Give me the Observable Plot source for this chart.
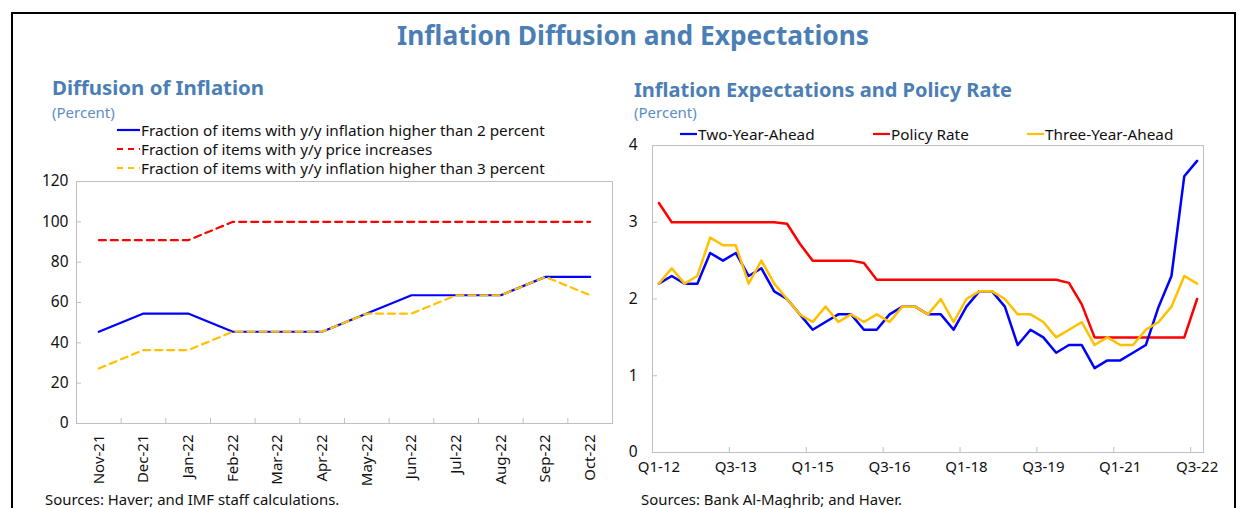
<!DOCTYPE html>
<html><head><meta charset="utf-8">
<script src="https://cdn.jsdelivr.net/npm/d3@7"></script>
<script src="https://cdn.jsdelivr.net/npm/@observablehq/plot@0.6"></script>
<style>
body{margin:0;background:#fff;font-family:"Noto Sans",sans-serif;}
#wrap{position:relative;width:1238px;height:508px;overflow:hidden;background:#fff;}
.abs{position:absolute;white-space:nowrap;}
.t1{color:#4A7EB4;font-weight:700;}
.pct{color:#5B8DC8;font-size:15px;}
.leg{font-size:15.3px;color:#111;display:flex;align-items:center;}
.leg svg{margin-right:1px;}
.src{font-size:14.9px;color:#111;}
</style></head>
<body><div id="wrap">
<div class="abs" style="left:11px;top:12px;right:2px;height:520px;border:2.5px solid #000;border-bottom:none;"></div>
<div class="abs t1" style="left:0;width:1266px;text-align:center;top:17px;font-size:26.3px;">Inflation Diffusion and Expectations</div>
<div class="abs t1" style="left:52px;top:73px;font-size:20.4px;">Diffusion of Inflation</div>
<div class="abs pct" style="left:52px;top:102px;">(Percent)</div>
<div class="abs t1" style="left:634px;top:76px;font-size:20px;">Inflation Expectations and Policy Rate</div>
<div class="abs pct" style="left:634px;top:102px;">(Percent)</div>
<div id="legL"></div><div id="legR"></div>
<div id="chartL" class="abs" style="left:0;top:170px;"></div>
<div id="chartR" class="abs" style="left:600px;top:130px;"></div>
<div class="abs src" style="left:45px;top:489px;">Sources: Haver; and IMF staff calculations.</div>
<div class="abs src" style="left:641px;top:489px;">Sources: Bank Al-Maghrib; and Haver.</div>
</div>
<script>
// ---- Left chart data ----
const months = ["Nov-21","Dec-21","Jan-22","Feb-22","Mar-22","Apr-22","May-22","Jun-22","Jul-22","Aug-22","Sep-22","Oct-22"];
const above2 = [45.5, 54.5, 54.5, 45.5, 45.5, 45.5, 54.5, 63.6, 63.6, 63.6, 72.7, 72.7];
const priceIncreases = [90.9, 90.9, 90.9, 100, 100, 100, 100, 100, 100, 100, 100, 100];
const above3 = [27.3, 36.4, 36.4, 45.5, 45.5, 45.5, 54.5, 54.5, 63.6, 63.6, 72.7, 63.6];
const leftYTicks = [0, 20, 40, 60, 80, 100, 120];
const leftNames = ["Fraction of items with y/y inflation higher than 2 percent","Fraction of items with y/y price increases","Fraction of items with y/y inflation higher than 3 percent"];

// ---- Right chart data ----
const quarters = ["Q1-12","Q2-12","Q3-12","Q4-12","Q1-13","Q2-13","Q3-13","Q4-13","Q1-14","Q2-14","Q3-14","Q4-14",
"Q1-15","Q2-15","Q3-15","Q4-15","Q1-16","Q2-16","Q3-16","Q4-16","Q1-17","Q2-17","Q3-17","Q4-17",
"Q1-18","Q2-18","Q3-18","Q4-18","Q1-19","Q2-19","Q3-19","Q4-19","Q1-20","Q2-20","Q3-20","Q4-20",
"Q1-21","Q2-21","Q3-21","Q4-21","Q1-22","Q2-22","Q3-22"];
const twoYearAhead = [2.2,2.3,2.2,2.2,2.6,2.5,2.6,2.3,2.4,2.1, 2.0,1.8,1.6,1.7,1.8,1.8,1.6,1.6,1.8,1.9, 1.9,1.8,1.8,1.6,1.9,2.1,2.1,1.9,1.4,1.6, 1.5,1.3,1.4,1.4,1.1,1.2,1.2,1.3,1.4,1.9, 2.3,3.6,3.8];
const policyRate = [3.25,3,3,3,3,3,3,3,3,3, 2.98,2.72,2.5,2.5,2.5,2.5,2.47,2.25,2.25,2.25, 2.25,2.25,2.25,2.25,2.25,2.25,2.25,2.25,2.25,2.25, 2.25,2.25,2.21,1.93,1.5,1.5,1.5,1.5,1.5,1.5, 1.5,1.5,2.0];
const threeYearAhead = [2.2,2.4,2.2,2.3,2.8,2.7,2.7,2.2,2.5,2.2, 2.0,1.8,1.7,1.9,1.7,1.8,1.7,1.8,1.7,1.9, 1.9,1.8,2.0,1.7,2.0,2.1,2.1,2.0,1.8,1.8, 1.7,1.5,1.6,1.7,1.4,1.5,1.4,1.4,1.6,1.7, 1.9,2.3,2.2];
const rightYTicks = [0, 1, 2, 3, 4];
const rightLabelEvery = 6;
const rightNames = ["Two-Year-Ahead","Policy Rate","Three-Year-Ahead"];

const BLUE = "#0000FF", RED = "#FF0000", YEL = "#FFC000", GRID = "#BFBFBF";

// ---- Left chart ----
const lw = 630, lh = 330, lm = {l:76, r:18, t:11, b:77};
const lRows = months.map((m, i) => ({i, m, above2: above2[i], inc: priceIncreases[i], above3: above3[i]}));
const chartL = Plot.plot({
  width: lw, height: lh, marginLeft: lm.l, marginRight: lm.r, marginTop: lm.t, marginBottom: lm.b,
  style: {fontFamily: "Noto Sans", fontSize: "15px", color: "#111", background: "transparent"},
  x: {domain: [-0.5, months.length - 0.5]},
  y: {domain: [0, 120]},
  marks: [
    Plot.frame({stroke: GRID}),
    Plot.ruleX(d3.range(0.5, months.length - 1, 1), {stroke: GRID, insetTop: lh - lm.t - lm.b - 5}),
    Plot.ruleY(leftYTicks, {stroke: GRID, insetRight: lw - lm.l - lm.r - 5}),
    Plot.axisY({ticks: leftYTicks, tickFormat: d => String(d), tickSize: 0, tickPadding: 8, fontSize: 15.5, label: null}),
    Plot.axisX({ticks: d3.range(months.length), tickFormat: i => months[i], tickSize: 0, tickPadding: 11, tickRotate: -90, label: null, fontSize: 15}),
    Plot.line(lRows, {x: "i", y: "above2", stroke: BLUE, strokeWidth: 2.2}),
    Plot.line(lRows, {x: "i", y: "inc", stroke: RED, strokeWidth: 2.2, strokeDasharray: "7,5"}),
    Plot.line(lRows, {x: "i", y: "above3", stroke: YEL, strokeWidth: 2.2, strokeDasharray: "7,5"})
  ]
});
document.getElementById("chartL").append(chartL);

// ---- Right chart ----
const rw = 630, rh = 350, rm = {l:52, r:27, t:15, b:28};
const rRows = quarters.map((q, i) => ({i, q, two: twoYearAhead[i], pol: policyRate[i], three: threeYearAhead[i]}));
const labelIdx = d3.range(0, quarters.length, rightLabelEvery);
const chartR = Plot.plot({
  width: rw, height: rh, marginLeft: rm.l, marginRight: rm.r, marginTop: rm.t, marginBottom: rm.b,
  style: {fontFamily: "Noto Sans", fontSize: "15px", color: "#111", background: "transparent"},
  x: {domain: [-0.5, quarters.length - 0.5]},
  y: {domain: [0, 4]},
  marks: [
    Plot.frame({stroke: GRID}),
    Plot.ruleX(labelIdx.slice(1).map(i => i - 0.5), {stroke: GRID, insetTop: rh - rm.t - rm.b - 5}),
    Plot.ruleY(rightYTicks, {stroke: GRID, insetRight: rw - rm.l - rm.r - 5}),
    Plot.axisY({ticks: rightYTicks, tickFormat: d => String(d), tickSize: 0, tickPadding: 15, fontSize: 15.5, label: null}),
    Plot.axisX({ticks: labelIdx, tickFormat: i => quarters[i], tickSize: 0, tickPadding: 9, label: null, fontSize: 15}),
    Plot.line(rRows, {x: "i", y: "pol", stroke: RED, strokeWidth: 2.5}),
    Plot.line(rRows, {x: "i", y: "two", stroke: BLUE, strokeWidth: 2.5}),
    Plot.line(rRows, {x: "i", y: "three", stroke: YEL, strokeWidth: 2.5})
  ]
});
document.getElementById("chartR").append(chartR);

// ---- Legends ----
function swatch(color, dash, w) {
  return `<svg width="${w}" height="10"><line x1="0" x2="${w}" y1="5" y2="5" stroke="${color}" stroke-width="2.2" ${dash ? `stroke-dasharray="${dash}"` : ""}/></svg>`;
}
const legL = [[BLUE, null], [RED, "6,5"], [YEL, "6,5"]];
const tops = [120, 139, 158];
document.getElementById("legL").innerHTML = leftNames.map((n, k) =>
  `<div class="abs leg" style="left:117px;top:${tops[k]}px;">${swatch(legL[k][0], legL[k][1], 23)}<span>${n}</span></div>`).join("");
const legR = [[BLUE, 680], [RED, 873], [YEL, 1027]];
document.getElementById("legR").innerHTML = rightNames.map((n, k) =>
  `<div class="abs leg" style="left:${legR[k][1]}px;top:124px;">${swatch(legR[k][0], null, 17)}<span>${n}</span></div>`).join("");
</script>
</body></html>
